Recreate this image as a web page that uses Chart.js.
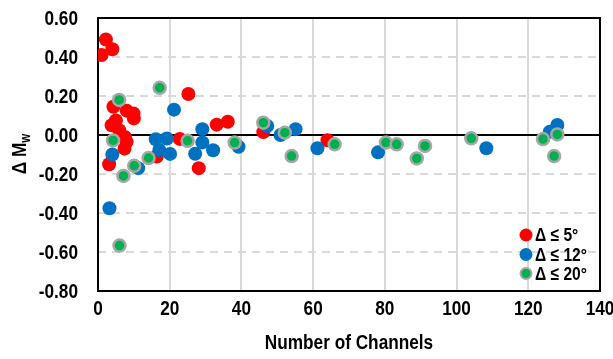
<!DOCTYPE html>
<html>
<head>
<meta charset="utf-8">
<script src="https://cdn.jsdelivr.net/npm/chart.js@4.4.1/dist/chart.umd.min.js"></script>
<style>
  html, body { margin: 0; padding: 0; background: #ffffff; }
  #wrap { width: 613px; height: 359px; }
</style>
</head>
<body>
<div id="wrap"><canvas id="c" width="613" height="359"></canvas></div>
<script>
// Number of channels vs. magnitude residual, grouped by epicentral distance
const channels5 = [1.0, 2.2, 4.0, 4.3, 8.0, 9.9, 10.0, 5.0, 3.8, 5.9, 7.5, 8.0, 7.4, 3.1, 16.4, 22.8, 25.2, 28.1, 33.1, 36.2, 46.1, 64.0];
const dMw5      = [0.41, 0.49, 0.44, 0.145, 0.125, 0.11, 0.085, 0.075, 0.05, 0.025, -0.01, -0.035, -0.07, -0.15, -0.11, -0.02, 0.21, -0.17, 0.053, 0.068, 0.015, -0.027];

const channels12 = [3.2, 4.0, 11.2, 16.1, 19.2, 17.1, 20.1, 21.2, 29.1, 29.1, 27.1, 32.1, 39.2, 47.2, 50.9, 55.1, 61.2, 78.1, 108.3, 126.0, 128.1];
const dMw12      = [-0.376, -0.10, -0.17, -0.022, -0.018, -0.077, -0.097, 0.13, 0.03, -0.038, -0.096, -0.078, -0.06, 0.046, 0.0, 0.03, -0.068, -0.089, -0.068, 0.017, 0.051];

const channels20 = [5.9, 17.2, 4.2, 6.0, 7.1, 10.1, 14.1, 25.0, 38.1, 46.1, 52.1, 54.0, 66.0, 80.3, 83.3, 88.9, 91.2, 104.1, 124.1, 128.1, 127.2];
const dMw20      = [0.18, 0.242, -0.028, -0.567, -0.21, -0.158, -0.118, -0.03, -0.039, 0.063, 0.012, -0.108, -0.048, -0.039, -0.048, -0.12, -0.056, -0.017, -0.021, 0.003, -0.108];

const seriesNames = ['\u0394 \u2264 5\u00b0', '\u0394 \u2264 12\u00b0', '\u0394 \u2264 20\u00b0'];
const xTicks = [0, 20, 40, 60, 80, 100, 120, 140];
const yTicks = [-0.8, -0.6, -0.4, -0.2, 0.0, 0.2, 0.4, 0.6];

const FONT = "'Liberation Sans', Arial, sans-serif";
const NARROW = 0.82; // condensed lettering
const RED = '#ff0000', BLUE = '#0070c0', GREEN = '#00b050', RING = '#a6a6a6';

const toPoints = (xs, ys) => xs.map((x, i) => ({ x: x, y: ys[i] }));

// condensed text helper
function narrowText(ctx, text, x, y, size, align, baseline) {
  ctx.save();
  ctx.font = 'bold ' + size + 'px ' + FONT;
  ctx.textAlign = align;
  ctx.textBaseline = baseline;
  ctx.translate(x, y);
  ctx.scale(NARROW, 1);
  ctx.fillText(text, 0, 0);
  ctx.restore();
}

// frame, zero line, tick labels, axis titles and the in-plot legend
const decor = {
  id: 'decor',
  beforeDatasetsDraw(chart) {
    const { ctx, chartArea: a, scales } = chart;
    const y0 = scales.y.getPixelForValue(0);
    ctx.save();
    ctx.strokeStyle = '#000';
    ctx.lineWidth = 2;
    ctx.beginPath();
    ctx.moveTo(a.left, y0);
    ctx.lineTo(a.right, y0);
    ctx.stroke();
    ctx.strokeRect(a.left, a.top, a.right - a.left, a.bottom - a.top);
    ctx.restore();
  },
  afterDraw(chart) {
    const { ctx, chartArea: a, scales } = chart;
    ctx.save();
    ctx.fillStyle = '#000';
    // tick labels
    yTicks.forEach(v => narrowText(ctx, v.toFixed(2), 78, scales.y.getPixelForValue(v) + 1, 21, 'right', 'middle'));
    xTicks.forEach(v => narrowText(ctx, String(v), scales.x.getPixelForValue(v), 309, 21, 'center', 'middle'));
    // x axis title
    narrowText(ctx, 'Number of Channels', (a.left + a.right) / 2, 343, 21, 'center', 'middle');
    // y axis title with subscript
    ctx.save();
    ctx.translate(19, 154);
    ctx.rotate(-Math.PI / 2);
    ctx.scale(NARROW, 1);
    const main = '\u0394 M';
    ctx.font = 'bold 21px ' + FONT;
    const wMain = ctx.measureText(main).width;
    ctx.font = 'bold 14px ' + FONT;
    const wSub = ctx.measureText('w').width;
    const start = -(wMain + wSub) / 2;
    ctx.textAlign = 'left';
    ctx.textBaseline = 'alphabetic';
    ctx.font = 'bold 21px ' + FONT;
    ctx.fillText(main, start, 7);
    ctx.font = 'bold 14px ' + FONT;
    ctx.fillText('w', start + wMain, 11);
    ctx.restore();

    // legend
    const colors = [RED, BLUE, GREEN];
    const ys = [235, 254.5, 273.5];
    for (let i = 0; i < 3; i++) {
      ctx.beginPath();
      ctx.arc(526, ys[i], i === 2 ? 5.5 : 6.5, 0, Math.PI * 2);
      ctx.fillStyle = colors[i];
      ctx.fill();
      if (i === 2) { ctx.lineWidth = 2; ctx.strokeStyle = RING; ctx.stroke(); }
      ctx.fillStyle = '#000';
      narrowText(ctx, seriesNames[i], 535, ys[i] + 1, 19, 'left', 'middle');
    }
    ctx.restore();
  }
};

new Chart(document.getElementById('c'), {
  type: 'scatter',
  data: {
    datasets: [
      { label: seriesNames[0], data: toPoints(channels5, dMw5), backgroundColor: RED, borderColor: RED, borderWidth: 0, pointRadius: 7, order: 3 },
      { label: seriesNames[1], data: toPoints(channels12, dMw12), backgroundColor: BLUE, borderColor: BLUE, borderWidth: 0, pointRadius: 7, order: 2 },
      { label: seriesNames[2], data: toPoints(channels20, dMw20), backgroundColor: GREEN, borderColor: RING, borderWidth: 2.5, pointRadius: 6, order: 1 }
    ]
  },
  options: {
    responsive: false,
    animation: false,
    layout: { padding: { top: 18, right: 13, left: 0, bottom: 0 } },
    plugins: { legend: { display: false }, tooltip: { enabled: false } },
    scales: {
      x: {
        type: 'linear', min: 0, max: 140,
        afterFit(s) { s.height = 68; s.paddingLeft = 0; s.paddingRight = 0; },
        afterBuildTicks(s) { s.ticks = xTicks.map(v => ({ value: v })); },
        grid: { color: '#d9d9d9', lineWidth: 2, drawTicks: false },
        border: { display: false },
        ticks: { display: false }
      },
      y: {
        type: 'linear', min: -0.8, max: 0.6,
        afterFit(s) { s.width = 98; s.paddingTop = 0; s.paddingBottom = 0; },
        afterBuildTicks(s) { s.ticks = yTicks.map(v => ({ value: v })); },
        grid: {
          color: ctx => Math.abs(ctx.tick.value) < 1e-9 ? 'rgba(0,0,0,0)' : '#d9d9d9',
          lineWidth: 2, drawTicks: false
        },
        border: { display: false, dash: [8, 6] },
        ticks: { display: false }
      }
    }
  },
  plugins: [decor]
});
</script>
</body>
</html>
